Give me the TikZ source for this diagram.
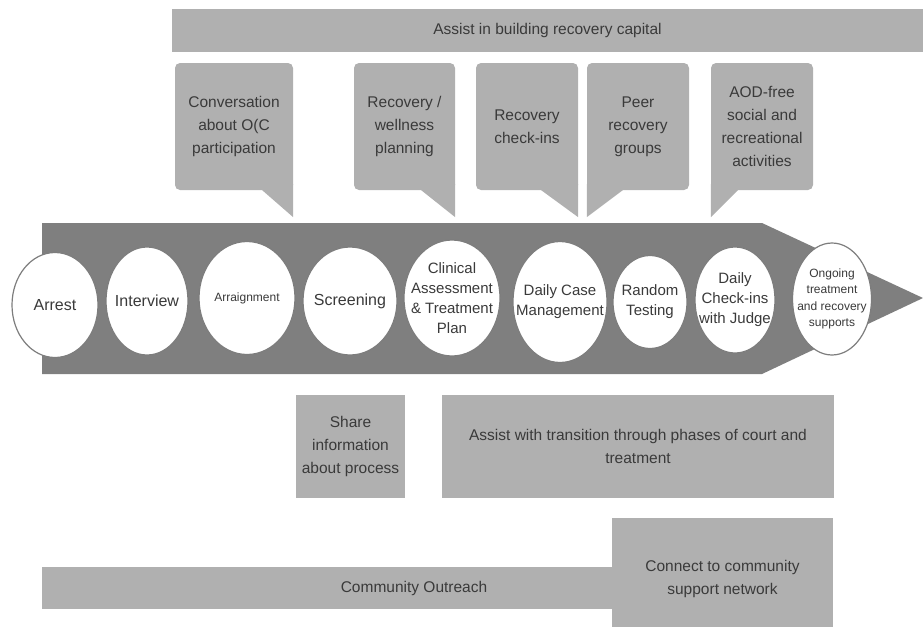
\documentclass[tikz,border=0pt]{standalone}
\usepackage{fontspec}
\setmainfont{Liberation Sans}
\usetikzlibrary{shapes.geometric}
\definecolor{boxgray}{RGB}{176,176,176}
\definecolor{arrowgray}{RGB}{127,127,127}
\definecolor{rimgray}{RGB}{125,125,125}
\definecolor{textgray}{RGB}{58,58,58}
\begin{document}
\begin{tikzpicture}[x=1pt,y=-1pt,
  box/.style={fill=boxgray,text=textgray,align=center,inner sep=0pt,
    font=\fontsize{15.5}{23}\selectfont},
  callout/.style={box,rounded corners=5pt,minimum width=#1,minimum height=127},
  stage/.style 2 args={ellipse,draw=rimgray,line width=1.2pt,fill=white,
    minimum width=#1,minimum height=#2,inner sep=0pt},
  stagetext/.style={text=textgray,align=center,font=\fontsize{15}{20}\selectfont},
  bigtext/.style={stagetext,font=\fontsize{16}{20}\selectfont},
  smalltext/.style={stagetext,font=\fontsize{12}{16.5}\selectfont}]
\useasboundingbox (0,0) rectangle (923,627);
% top bar and callouts
\node [box,minimum width=751,minimum height=43] (capital) at (547.5,30.5) {Assist in building recovery capital};
\node [callout=118] (conversation) at (234,126.5) {Conversation\\about O(C\\participation};
\node [callout=101] (planning) at (404.5,126.5) {Recovery /\\wellness\\planning};
\node [callout=102] (checkins) at (527,126.5) {Recovery\\check-ins};
\node [callout=102] (peer) at (638,126.5) {Peer\\recovery\\groups};
\node [callout=102] (aodfree) at (762,126.5) {AOD-free\\social and\\recreational\\activities};
\foreach \c/\w in {conversation/31,planning/34,checkins/37}
  \fill [boxgray] ([xshift=-\w pt,yshift=6pt]\c.south east) -- ([yshift=6pt]\c.south east)
    -- ([yshift=-27pt]\c.south east) -- ([xshift=-\w pt]\c.south east) -- cycle;
\foreach \c/\w in {peer/36,aodfree/27}
  \fill [boxgray] ([yshift=6pt]\c.south west) -- ([xshift=\w pt,yshift=6pt]\c.south west)
    -- ([xshift=\w pt]\c.south west) -- ([yshift=-27pt]\c.south west) -- cycle;
% the arrow
\fill [arrowgray] (42,223) -- (762,223) -- (923,298) -- (762,374) -- (42,374) -- cycle;
% stages
\node [stage={86}{105},label={[bigtext]center:Arrest}] (arrest) at (55,305) {};
\node [stage={82}{108},label={[bigtext]center:Interview}] (interview) at (147,301) {};
\node [stage={96}{113},label={[smalltext]center:Arraignment}] (arraignment) at (247,298) {};
\node [stage={94}{108},label={[bigtext]center:Screening}] (screening) at (350,301) {};
\node [stage={96}{116},label={[stagetext]center:{Clinical\\Assessment\\\& Treatment\\Plan}}] (clinical) at (452,298) {};
\node [stage={94}{121},label={[stagetext]center:{Daily Case\\Management}}] (casemgmt) at (560,302) {};
\node [stage={74}{93},label={[stagetext]center:{Random\\Testing}}] (testing) at (650,302) {};
\node [stage={80}{106},label={[stagetext]center:{Daily\\Check-ins\\with Judge}}] (judge) at (735,300) {};
\node [stage={79}{112},label={[smalltext]center:{Ongoing\\treatment\\and recovery\\supports}}] (ongoing) at (832,299) {};
% bottom boxes
\node [box,minimum width=109,minimum height=103] (share) at (350.5,446.5) {Share\\information\\about process};
\node [box,minimum width=392,minimum height=103] (transition) at (638,446.5) {Assist with transition through phases of court and\\treatment};
\node [box,minimum width=744,minimum height=42] (outreach) at (414,588) {Community Outreach};
\node [box,minimum width=221,minimum height=109,
  label={[box,fill=none,yshift=-6pt]center:{Connect to community\\support network}}] (connect) at (722.5,572.5) {};
\end{tikzpicture}
\end{document}
